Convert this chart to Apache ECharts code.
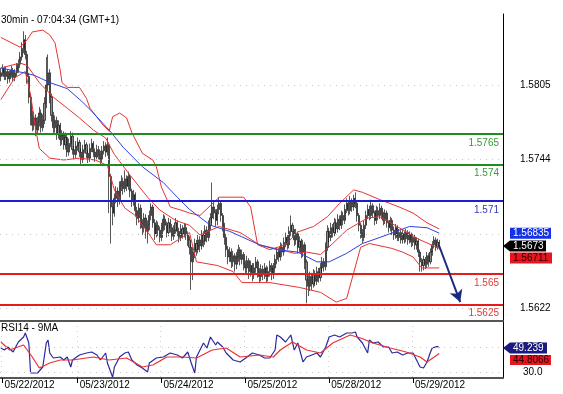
<!DOCTYPE html>
<html><head><meta charset="utf-8">
<script src="https://cdn.jsdelivr.net/npm/echarts@6/dist/echarts.min.js"></script>
<style>html,body{margin:0;padding:0;background:#fff}#c{width:563px;height:394px}</style>
</head><body><div id="c"></div>
<script>
const chartTitle = '30min - 07:04:34 (GMT+1)';
const rsiTitle = 'RSI14 - 9MA';
const slotCount = 288;
const dayTickIndex = [1, 44, 92, 140, 188, 236];
const dayLabels = ['05/22/2012', '05/23/2012', '05/24/2012', '05/25/2012', '05/28/2012', '05/29/2012'];
const firstOpen = 1.5812;
const closes = [
1.5815,1.5818,1.5812,1.5816,1.5810,1.5814,1.5817,1.5811,1.5815,1.5819,
1.5822,1.5828,1.5835,1.5842,1.5830,1.5812,1.5795,1.5780,1.5772,1.5778,
1.5768,1.5775,1.5782,1.5770,1.5776,1.5790,1.5805,1.5815,1.5795,1.5780,
1.5770,1.5776,1.5765,1.5772,1.5760,1.5764,1.5756,1.5762,1.5750,1.5757,
1.5763,1.5752,1.5748,1.5755,1.5758,1.5750,1.5744,1.5752,1.5756,1.5749,
1.5745,1.5753,1.5757,1.5750,1.5746,1.5752,1.5748,1.5744,1.5751,1.5755,
1.5750,1.5756,1.5730,1.5705,1.5700,1.5712,1.5718,1.5710,1.5722,1.5726,
1.5720,1.5728,1.5722,1.5730,1.5718,1.5710,1.5715,1.5702,1.5696,1.5704,
1.5692,1.5688,1.5696,1.5685,1.5690,1.5698,1.5705,1.5692,1.5683,1.5690,
1.5686,1.5680,1.5688,1.5695,1.5690,1.5684,1.5692,1.5688,1.5681,1.5686,
1.5692,1.5685,1.5680,1.5687,1.5683,1.5688,1.5682,1.5678,1.5672,1.5660,
1.5668,1.5675,1.5670,1.5678,1.5673,1.5682,1.5677,1.5686,1.5680,1.5690,
1.5696,1.5705,1.5700,1.5694,1.5703,1.5708,1.5698,1.5690,1.5680,1.5670,
1.5664,1.5668,1.5660,1.5665,1.5658,1.5664,1.5670,1.5662,1.5666,1.5658,
1.5655,1.5661,1.5652,1.5657,1.5650,1.5655,1.5660,1.5652,1.5648,1.5654,
1.5650,1.5655,1.5648,1.5652,1.5657,1.5650,1.5655,1.5662,1.5668,1.5664,
1.5672,1.5668,1.5676,1.5680,1.5674,1.5685,1.5690,1.5685,1.5678,1.5683,
1.5672,1.5677,1.5668,1.5674,1.5660,1.5645,1.5640,1.5648,1.5642,1.5650,
1.5644,1.5652,1.5647,1.5655,1.5660,1.5656,1.5672,1.5685,1.5680,1.5688,
1.5684,1.5692,1.5687,1.5695,1.5690,1.5698,1.5694,1.5703,1.5708,1.5702,
1.5710,1.5705,1.5712,1.5708,1.5698,1.5690,1.5684,1.5680,1.5690,1.5698,
1.5703,1.5698,1.5706,1.5700,1.5694,1.5702,1.5698,1.5704,1.5699,1.5694,
1.5700,1.5692,1.5688,1.5694,1.5686,1.5682,1.5688,1.5680,1.5684,1.5678,
1.5683,1.5679,1.5684,1.5678,1.5682,1.5676,1.5680,1.5674,1.5677,1.5668,
1.5660,1.5657,1.5662,1.5658,1.5665,1.5660,1.5668,1.5674,1.5678,1.5672,
1.5676,1.5673];
const highs = [
1.5819,1.5822,1.5820,1.5820,1.5818,1.5817,1.5821,1.5819,1.5818,1.5823,
1.5826,1.5832,1.5840,1.5849,1.5846,1.5833,1.5815,1.5798,1.5784,1.5783,
1.5781,1.5779,1.5787,1.5785,1.5781,1.5795,1.5828,1.5830,1.5818,1.5798,
1.5783,1.5780,1.5779,1.5776,1.5774,1.5768,1.5767,1.5766,1.5764,1.5761,
1.5767,1.5766,1.5755,1.5759,1.5762,1.5760,1.5753,1.5756,1.5760,1.5758,
1.5752,1.5757,1.5761,1.5759,1.5753,1.5756,1.5755,1.5751,1.5755,1.5759,
1.5758,1.5762,1.5758,1.5732,1.5710,1.5716,1.5722,1.5721,1.5726,1.5731,
1.5729,1.5735,1.5731,1.5734,1.5732,1.5720,1.5719,1.5717,1.5705,1.5708,
1.5707,1.5695,1.5700,1.5699,1.5694,1.5702,1.5708,1.5707,1.5695,1.5694,
1.5693,1.5689,1.5692,1.5699,1.5698,1.5693,1.5696,1.5695,1.5691,1.5690,
1.5696,1.5694,1.5688,1.5691,1.5690,1.5692,1.5691,1.5685,1.5681,1.5675,
1.5672,1.5679,1.5678,1.5682,1.5681,1.5686,1.5685,1.5690,1.5689,1.5694,
1.5700,1.5725,1.5710,1.5703,1.5707,1.5713,1.5710,1.5700,1.5692,1.5683,
1.5673,1.5672,1.5671,1.5669,1.5667,1.5668,1.5674,1.5672,1.5670,1.5668,
1.5661,1.5665,1.5663,1.5661,1.5659,1.5659,1.5664,1.5662,1.5655,1.5658,
1.5657,1.5659,1.5657,1.5656,1.5661,1.5659,1.5659,1.5666,1.5672,1.5671,
1.5676,1.5675,1.5680,1.5684,1.5682,1.5689,1.5698,1.5692,1.5687,1.5687,
1.5685,1.5681,1.5679,1.5678,1.5676,1.5662,1.5649,1.5652,1.5651,1.5654,
1.5653,1.5656,1.5655,1.5659,1.5664,1.5663,1.5676,1.5690,1.5688,1.5692,
1.5691,1.5696,1.5695,1.5699,1.5698,1.5702,1.5701,1.5707,1.5712,1.5710,
1.5714,1.5712,1.5715,1.5717,1.5710,1.5700,1.5692,1.5687,1.5694,1.5702,
1.5707,1.5706,1.5711,1.5708,1.5702,1.5706,1.5705,1.5708,1.5706,1.5701,
1.5703,1.5702,1.5694,1.5697,1.5696,1.5689,1.5691,1.5690,1.5687,1.5686,
1.5686,1.5685,1.5687,1.5686,1.5685,1.5684,1.5683,1.5682,1.5680,1.5679,
1.5670,1.5663,1.5665,1.5664,1.5668,1.5667,1.5671,1.5677,1.5681,1.5680,
1.5679,1.5678];
const lows = [
1.5808,1.5812,1.5809,1.5809,1.5806,1.5807,1.5811,1.5808,1.5808,1.5812,
1.5815,1.5819,1.5825,1.5831,1.5826,1.5806,1.5790,1.5772,1.5767,1.5768,
1.5763,1.5764,1.5771,1.5766,1.5767,1.5773,1.5786,1.5800,1.5790,1.5775,
1.5764,1.5766,1.5760,1.5761,1.5755,1.5756,1.5752,1.5752,1.5746,1.5747,
1.5754,1.5748,1.5744,1.5745,1.5751,1.5746,1.5740,1.5741,1.5749,1.5745,
1.5741,1.5742,1.5750,1.5746,1.5742,1.5743,1.5744,1.5740,1.5741,1.5748,
1.5746,1.5747,1.5700,1.5675,1.5690,1.5697,1.5708,1.5705,1.5707,1.5718,
1.5715,1.5717,1.5718,1.5719,1.5713,1.5705,1.5706,1.5697,1.5690,1.5692,
1.5687,1.5682,1.5684,1.5679,1.5675,1.5686,1.5694,1.5688,1.5678,1.5680,
1.5681,1.5676,1.5677,1.5685,1.5686,1.5680,1.5681,1.5684,1.5677,1.5678,
1.5683,1.5681,1.5676,1.5677,1.5679,1.5680,1.5678,1.5673,1.5666,1.5637,
1.5645,1.5663,1.5665,1.5667,1.5668,1.5670,1.5672,1.5674,1.5676,1.5677,
1.5686,1.5692,1.5695,1.5689,1.5690,1.5699,1.5693,1.5685,1.5674,1.5664,
1.5658,1.5660,1.5655,1.5656,1.5652,1.5654,1.5660,1.5657,1.5658,1.5653,
1.5650,1.5651,1.5646,1.5648,1.5644,1.5646,1.5651,1.5647,1.5643,1.5644,
1.5645,1.5646,1.5643,1.5644,1.5648,1.5645,1.5646,1.5651,1.5658,1.5660,
1.5661,1.5664,1.5665,1.5672,1.5670,1.5671,1.5681,1.5680,1.5673,1.5674,
1.5667,1.5668,1.5663,1.5664,1.5654,1.5626,1.5632,1.5636,1.5637,1.5639,
1.5640,1.5641,1.5643,1.5644,1.5651,1.5652,1.5653,1.5669,1.5676,1.5677,
1.5680,1.5681,1.5683,1.5684,1.5686,1.5687,1.5690,1.5691,1.5700,1.5698,
1.5699,1.5701,1.5702,1.5704,1.5693,1.5685,1.5679,1.5675,1.5677,1.5687,
1.5695,1.5694,1.5695,1.5696,1.5690,1.5691,1.5694,1.5695,1.5695,1.5690,
1.5691,1.5688,1.5684,1.5685,1.5682,1.5678,1.5679,1.5677,1.5677,1.5675,
1.5675,1.5675,1.5676,1.5674,1.5675,1.5672,1.5673,1.5670,1.5670,1.5664,
1.5652,1.5652,1.5653,1.5654,1.5655,1.5656,1.5658,1.5665,1.5671,1.5669,
1.5670,1.5670];
const maBlue = [[0,1.5819],[13,1.5815],[19,1.5813],[28,1.5807],[38,1.5802],[46,1.5792],[51,1.5785],[62,1.5768],[70,1.5754],[81,1.5738],[93,1.5725],[101,1.5713],[108,1.5703],[120,1.5690],[131,1.5685],[148,1.5674],[158,1.5670],[170,1.5668],[181,1.5660],[188,1.5660],[198,1.5667],[207,1.5675],[217,1.5680],[234,1.5689],[244,1.5688],[251,1.56835]];
const bbUpper = [[0,1.5844],[11,1.5836],[15,1.5842],[18,1.58485],[24,1.5850],[28,1.5846],[31,1.58395],[34,1.5817],[35,1.5807],[38,1.5803],[45,1.5803],[49,1.5794],[51,1.5786],[58,1.5773],[62,1.5767],[64,1.5779],[68,1.5782],[72,1.5778],[75,1.5766],[81,1.5749],[87,1.57435],[89,1.5738],[92,1.5721],[97,1.5705],[103,1.57025],[108,1.5700],[114,1.5698],[125,1.5713],[139,1.5713],[143,1.5705],[147,1.5674],[154,1.5670],[163,1.5674],[170,1.56845],[179,1.5689],[187,1.5697],[194,1.5708],[202,1.5719],[207,1.5717],[217,1.5711],[228,1.5705],[236,1.5700],[244,1.5692],[251,1.5687]];
const bbMiddle = [[0,1.5819],[11,1.5823],[15,1.5821],[22,1.5807],[30,1.5795],[38,1.5786],[45,1.5778],[53,1.5768],[60,1.57615],[65,1.5748],[74,1.5731],[84,1.5713],[91,1.57025],[100,1.5694],[108,1.5690],[114,1.5682],[125,1.5689],[137,1.5684],[148,1.5674],[160,1.5670],[168,1.5667],[175,1.5668],[183,1.5666],[190,1.5675],[198,1.5686],[210,1.5696],[217,1.5697],[228,1.5688],[240,1.5678],[251,1.56711]];
const bbLower = [[0,1.5793],[8,1.5811],[14,1.5816],[17,1.5797],[20,1.5768],[22,1.5753],[28,1.5745],[36,1.57435],[45,1.5745],[54,1.57435],[61,1.5739],[65,1.5719],[71,1.5704],[77,1.5698],[84,1.56845],[89,1.5674],[97,1.5674],[103,1.56795],[108,1.5684],[112,1.5660],[124,1.5657],[133,1.5652],[138,1.5643],[154,1.5643],[171,1.5639],[183,1.5635],[192,1.5627],[198,1.5630],[202,1.5651],[206,1.5672],[211,1.5675],[224,1.5671],[230,1.5668],[236,1.5664],[241,1.5655],[251,1.5655]];
const rsi = [[0,49.2],[2,47.6],[4,50],[7,46],[10,54],[13,58],[14,61.2],[16,53.2],[17,29.2],[18,27.6],[21,29.2],[24,34],[26,53.2],[27,55.6],[28,45.2],[30,41.2],[34,42],[36,39.6],[38,42],[40,34],[41,39.6],[45,43.6],[49,45.2],[52,46],[55,43.6],[57,39.6],[60,45.2],[61,37.2],[64,25.8],[65,34],[68,42],[71,45.2],[73,46],[75,39.6],[78,35.6],[81,33.2],[84,30],[85,37.2],[89,41.2],[93,42],[97,45.2],[101,43.6],[104,41.2],[107,46],[109,37.2],[111,29.2],[112,42],[114,47.6],[116,53.2],[118,49.2],[120,58],[123,51.6],[124,54],[127,50],[129,45.2],[133,39.6],[137,38],[141,42],[144,45.2],[148,43.6],[151,41.2],[154,41.2],[157,47.6],[158,59.6],[160,58],[163,54],[166,59.6],[167,61.2],[168,47.6],[170,53.2],[173,38],[175,42],[178,43.6],[181,45.2],[183,42],[186,50],[188,58],[191,59.6],[194,58],[198,61.2],[201,61.2],[203,62],[204,58],[207,53.2],[210,45.2],[211,55.6],[213,53.2],[216,54],[219,50],[222,50],[224,45.2],[227,46],[230,43.6],[233,45.2],[236,45.2],[238,39.6],[240,34],[242,33.2],[244,38],[246,46],[247,49.2],[250,50.5],[251,49.239]];
const rsiMA = [[0,54],[5,47.6],[13,51.6],[18,42],[22,33.2],[28,37.2],[34,39.6],[41,39.6],[53,42],[62,39.6],[72,41.2],[81,34],[87,35.6],[95,42],[104,42],[112,41.2],[121,47.6],[129,49.2],[137,42],[148,43.6],[156,42],[160,47.6],[167,54],[175,47.6],[183,45.2],[190,53.2],[200,59.6],[206,57.2],[213,53.2],[223,49.2],[232,46],[240,42],[244,38],[251,44.8066]];
const priceTicks = [1.5622, 1.5683, 1.5744, 1.5805];
const rsiTicks = [30, 50];
const levels = [1.5765, 1.574, 1.571, 1.565, 1.5625];
const levelLabels = ['1.5765', '1.574', '1.571', '1.565', '1.5625'];
const levelColors = ['#1e8c1e', '#1e8c1e', '#1c1cd0', '#e41c1c', '#e41c1c'];
const levelTextColors = ['#3a9a3a', '#3a9a3a', '#3636c8', '#e03a3a', '#e03a3a'];
const arrowFrom = [251, 1.5673];
const arrowTo = [263, 1.5627];
const lastPrice = 1.5673, lastMA = 1.56835, lastMid = 1.56711;
const lastRsi = 49.239, lastRsiMA = 44.8066;

const FONT = 'Liberation Sans, Arial, sans-serif';
const cats = Array.from({length: slotCount}, (_, i) => String(i));
const candles = closes.map((c, i) => [i === 0 ? firstOpen : closes[i - 1], c, lows[i], highs[i]]);
const isDay = (idx) => dayTickIndex.indexOf(idx) >= 0;

const chart = echarts.init(document.getElementById('c'), null, {renderer: 'canvas'});
chart.setOption({
  animation: false,
  backgroundColor: '#fff',
  title: [
    {text: chartTitle, left: 1, top: 15, padding: 0, textStyle: {fontSize: 10, fontWeight: 'normal', color: '#000', fontFamily: FONT}},
    {text: rsiTitle, left: 1, top: 323, padding: 0, textStyle: {fontSize: 10, fontWeight: 'normal', color: '#000', fontFamily: FONT}}
  ],
  grid: [
    {left: 0, right: 60, top: 14, bottom: 73},
    {left: 0, right: 60, top: 321, bottom: 16}
  ],
  xAxis: [
    {type: 'category', gridIndex: 0, data: cats, boundaryGap: true,
     axisLine: {show: true, onZero: false, lineStyle: {color: '#555', width: 2}},
     axisTick: {show: false}, axisLabel: {show: false}, splitLine: {show: false}},
    {type: 'category', gridIndex: 1, data: cats, boundaryGap: true,
     axisLine: {show: true, onZero: false, lineStyle: {color: '#555', width: 2}},
     axisTick: {show: true, interval: (i) => isDay(i), alignWithLabel: true, length: 5, lineStyle: {color: '#000'}},
     axisLabel: {show: true, interval: (i) => isDay(i), align: 'left', margin: 2, padding: [0, 0, 0, 2],
       fontSize: 10, color: '#000', fontFamily: FONT,
       formatter: (v, i) => { const k = dayTickIndex.indexOf(i); return k >= 0 ? dayLabels[k] : ''; }},
     splitLine: {show: true, interval: (i) => isDay(i), lineStyle: {color: '#d0d0d0', type: [1, 4]}}}
  ],
  yAxis: [
    {type: 'value', gridIndex: 0, position: 'right', min: 1.56115, max: 1.58632,
     axisLine: {show: true, onZero: false, lineStyle: {color: '#000', width: 1}},
     axisTick: {show: false}, axisLabel: {show: false}, splitLine: {show: false}},
    {type: 'value', gridIndex: 1, position: 'right', min: 25.2, max: 70.8,
     axisLine: {show: true, onZero: false, lineStyle: {color: '#000', width: 1}},
     axisTick: {show: false}, axisLabel: {show: false}, splitLine: {show: false}}
  ],
  series: [
    {type: 'candlestick', xAxisIndex: 0, yAxisIndex: 0, data: candles, barWidth: 1.6, z: 2,
     itemStyle: {color: '#8a8a8a', color0: '#8a8a8a', borderColor: '#111', borderColor0: '#111', borderWidth: 0.7},
     markLine: {silent: true, symbol: 'none', animation: false, precision: 6,
       lineStyle: {color: '#c8c8c8', type: [1, 5], width: 1},
       label: {show: true, position: 'end', distance: 17, fontSize: 10, color: '#000', fontFamily: FONT,
         formatter: (p) => Number(p.value).toFixed(4)},
       data: priceTicks.map(v => ({yAxis: v}))}},
    {type: 'line', name: 'upper', xAxisIndex: 0, yAxisIndex: 0, data: bbUpper, symbol: 'none', z: 3,
     lineStyle: {color: '#e83232', width: 1},
     markLine: {silent: true, symbol: 'none', animation: false, precision: 6,
       data: levels.map((v, k) => ({yAxis: v,
         lineStyle: {color: levelColors[k], width: 2, type: 'solid'},
         label: {show: true, position: 'insideEndBottom', distance: 4, formatter: levelLabels[k],
           color: levelTextColors[k], fontSize: 10, fontFamily: FONT}}))}},
    {type: 'line', name: 'middle', xAxisIndex: 0, yAxisIndex: 0, data: bbMiddle, symbol: 'none', z: 3,
     lineStyle: {color: '#e83232', width: 1}},
    {type: 'line', name: 'lower', xAxisIndex: 0, yAxisIndex: 0, data: bbLower, symbol: 'none', z: 3,
     lineStyle: {color: '#e83232', width: 1}},
    {type: 'line', name: 'ma', xAxisIndex: 0, yAxisIndex: 0, data: maBlue, symbol: 'none', z: 3,
     lineStyle: {color: '#3040e0', width: 1},
     markLine: {silent: true, symbol: ['none', 'arrow'], symbolSize: [10, 12], animation: false, precision: 6,
       lineStyle: {color: '#1a2a80', width: 2, type: 'solid'}, label: {show: false},
       data: [[{coord: arrowFrom}, {coord: arrowTo}]]}},
    {type: 'line', name: 'rsi', xAxisIndex: 1, yAxisIndex: 1, data: rsi, symbol: 'none', z: 3,
     lineStyle: {color: '#2a2aa0', width: 1.2},
     markLine: {silent: true, symbol: 'none', animation: false, precision: 4,
       lineStyle: {color: '#c8c8c8', type: [1, 5], width: 1},
       label: {show: true, position: 'end', distance: 20, fontSize: 10, color: '#000', fontFamily: FONT,
         formatter: (p) => Number(p.value).toFixed(1)},
       data: rsiTicks.map(v => ({yAxis: v}))}},
    {type: 'line', name: 'rsiMA', xAxisIndex: 1, yAxisIndex: 1, data: rsiMA, symbol: 'none', z: 3,
     lineStyle: {color: '#e83232', width: 1.2}}
  ]
});

const py = (v) => chart.convertToPixel({yAxisIndex: 0}, v);
const ry = (v) => chart.convertToPixel({yAxisIndex: 1}, v);
const gfx = [];
function box(x0, x1, yc, h, fill, text, tcolor, arrow) {
  const t = yc - h / 2, b = yc + h / 2;
  const pts = arrow ? [[x0, yc], [x0 + 7, t], [x1, t], [x1, b], [x0 + 7, b]] : [[x0, t], [x1, t], [x1, b], [x0, b]];
  gfx.push({type: 'polygon', shape: {points: pts}, style: {fill: fill}, z: 100});
  gfx.push({type: 'text', x: arrow ? x0 + 10 : x0 + 3, y: yc, z: 101,
    style: {text: text, fill: tcolor, font: '10px ' + FONT, verticalAlign: 'middle', textVerticalAlign: 'middle'}});
}
const yMA = py(lastMA);
box(510, 551, yMA, 11, '#1432e6', lastMA.toFixed(5), '#fff', false);
const yP = py(lastPrice);
box(503, 546, yP, 11, '#000', lastPrice.toFixed(4), '#fff', true);
const yMid = Math.max(py(lastMid), yP + 12);
box(510, 552, yMid, 11, '#e8141e', lastMid.toFixed(5), '#2a0000', false);
const yR = ry(lastRsi);
box(503, 547, yR, 11, '#1a1a80', lastRsi.toFixed(3), '#fff', true);
const yRM = Math.max(ry(lastRsiMA), yR + 12);
box(510, 551, yRM, 10, '#e8141e', lastRsiMA.toFixed(4), '#2a0000', false);
chart.setOption({graphic: gfx});
</script></body></html>
